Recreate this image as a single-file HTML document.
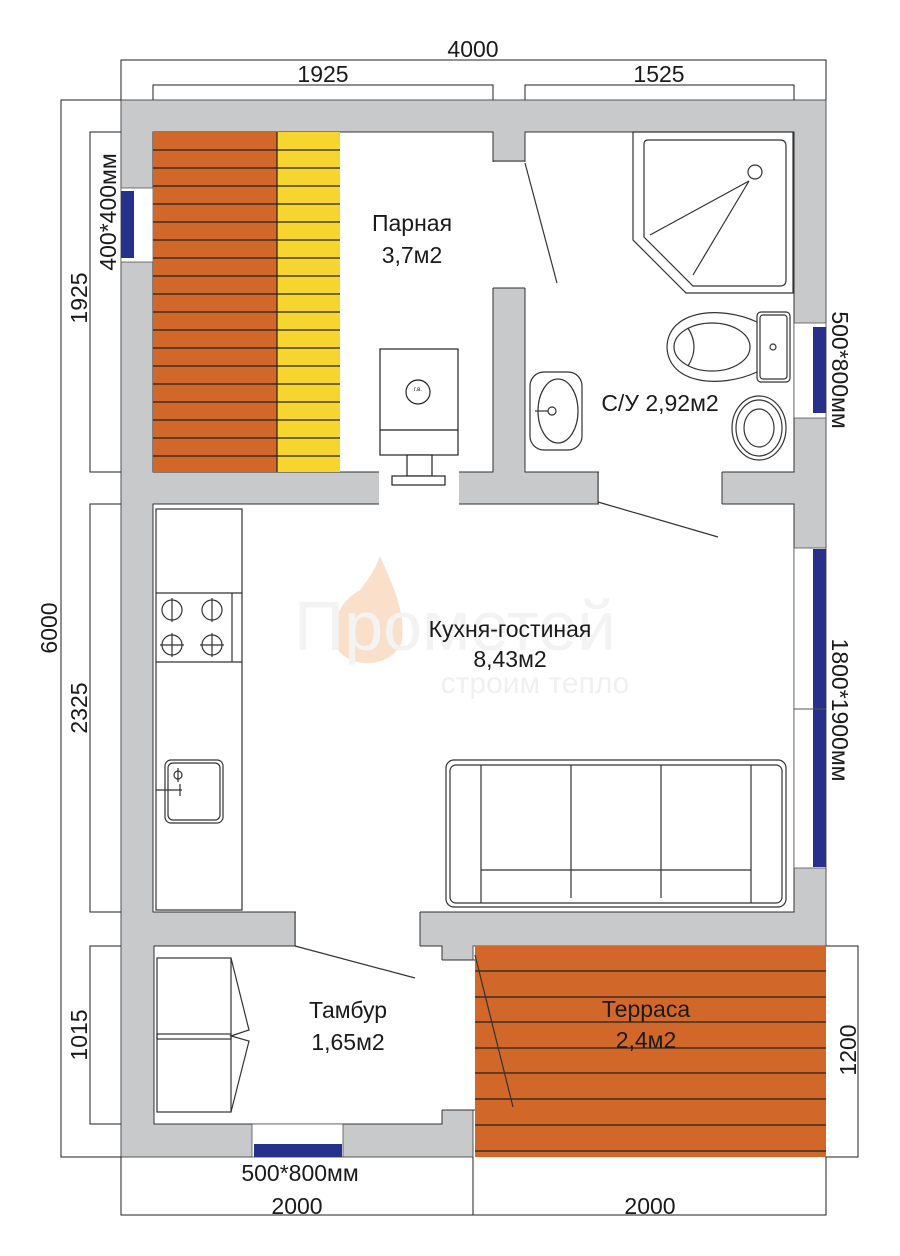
<!DOCTYPE html>
<html><head><meta charset="utf-8"><style>
html,body{margin:0;padding:0;background:#fff;}
svg{display:block;}
text{font-family:"Liberation Sans",sans-serif;fill:#1a1a1a;}
</style></head><body>
<svg width="900" height="1256" viewBox="0 0 900 1256" xmlns="http://www.w3.org/2000/svg">
<polygon points="121,100 826,100 826,946 473,946 473,1157 121,1157" fill="#c8c9cb" stroke="#555" stroke-width="1"/>
<g fill="#fff" stroke="#333" stroke-width="1">
<rect x="153" y="132" width="340" height="340"/>
<rect x="525" y="132" width="269" height="340"/>
<rect x="153" y="504" width="641" height="408"/>
<rect x="154" y="946" width="288" height="178"/>
</g>
<g fill="#fff">
<rect x="492" y="162" width="35" height="126"/>
<rect x="379" y="471" width="80" height="35"/>
<rect x="599" y="471" width="123" height="35"/>
<rect x="296" y="911" width="124" height="36"/>
<rect x="441" y="960" width="34" height="150"/>
</g>
<g stroke="#333" stroke-width="1" fill="none">
<line x1="493" y1="161" x2="525" y2="161"/><line x1="493" y1="288" x2="525" y2="288"/>
<line x1="598" y1="472" x2="598" y2="504"/><line x1="722" y1="472" x2="722" y2="504"/>
<line x1="295" y1="912" x2="295" y2="946"/><line x1="420" y1="912" x2="420" y2="946"/>
<line x1="442" y1="960" x2="475" y2="960"/><line x1="442" y1="1110" x2="475" y2="1110"/>
</g>
<rect x="121" y="188" width="32" height="74" fill="#fff" stroke="#555" stroke-width="0.8"/>
<rect x="121" y="191" width="13" height="67" fill="#27308a"/>
<rect x="794" y="323" width="32" height="95" fill="#fff" stroke="#555" stroke-width="0.8"/>
<rect x="813" y="327" width="13" height="86" fill="#27308a"/>
<rect x="794" y="548" width="32" height="320" fill="#fff" stroke="#555" stroke-width="0.8"/>
<rect x="813" y="549" width="13" height="318" fill="#27308a"/>
<line x1="794" y1="709" x2="826" y2="709" stroke="#555"/>
<rect x="252" y="1124" width="91" height="33" fill="#fff" stroke="#555" stroke-width="0.8"/>
<rect x="254" y="1144" width="88" height="13" fill="#27308a"/>
<rect x="475" y="946" width="351" height="211" fill="#d2672a"/>
<g stroke="#222" stroke-width="1.3">
<line x1="475" y1="971" x2="826" y2="971"/><line x1="475" y1="997" x2="826" y2="997"/>
<line x1="475" y1="1022" x2="826" y2="1022"/><line x1="475" y1="1048" x2="826" y2="1048"/>
<line x1="475" y1="1073" x2="826" y2="1073"/><line x1="475" y1="1099" x2="826" y2="1099"/>
<line x1="475" y1="1125" x2="826" y2="1125"/><line x1="475" y1="1151" x2="826" y2="1151"/>
</g>
<rect x="153" y="132" width="124" height="340" fill="#d2672a"/>
<rect x="277" y="132" width="63" height="340" fill="#f6d52e"/>
<g stroke="#222" stroke-width="1.2">
<line x1="153" y1="150" x2="340" y2="150"/><line x1="153" y1="168" x2="340" y2="168"/>
<line x1="153" y1="186" x2="340" y2="186"/><line x1="153" y1="204" x2="340" y2="204"/>
<line x1="153" y1="222" x2="340" y2="222"/><line x1="153" y1="240" x2="340" y2="240"/>
<line x1="153" y1="258" x2="340" y2="258"/><line x1="153" y1="276" x2="340" y2="276"/>
<line x1="153" y1="294" x2="340" y2="294"/><line x1="153" y1="312" x2="340" y2="312"/>
<line x1="153" y1="330" x2="340" y2="330"/><line x1="153" y1="348" x2="340" y2="348"/>
<line x1="153" y1="366" x2="340" y2="366"/><line x1="153" y1="384" x2="340" y2="384"/>
<line x1="153" y1="402" x2="340" y2="402"/><line x1="153" y1="420" x2="340" y2="420"/>
<line x1="153" y1="438" x2="340" y2="438"/><line x1="153" y1="456" x2="340" y2="456"/>
<line x1="277" y1="132" x2="277" y2="472"/>
</g>
<g fill="#fff" stroke="#222" stroke-width="1.2">
<rect x="380" y="349" width="78" height="106"/>
<line x1="380" y1="430" x2="458" y2="430"/>
<circle cx="418" cy="392" r="12"/>
<rect x="407" y="455" width="25" height="21"/>
<rect x="392" y="476" width="53" height="9"/>
</g>
<text x="418" y="391" font-size="6" text-anchor="middle">г.в.</text>
<g fill="none" stroke="#333" stroke-width="1.2">
<polygon points="633,132 793,132 793,293 686,293 633,240"/>
<path d="M648,140 H780 Q786,140 786,146 V280 Q786,286 780,286 H693 L644,237 V144 Q644,140 648,140 Z"/>
<circle cx="755" cy="172" r="7"/>
<line x1="749" y1="181" x2="650" y2="235"/><line x1="749" y1="181" x2="693" y2="275"/>
<rect x="757" y="312" width="33" height="70" rx="4"/>
<rect x="760" y="315" width="27" height="64" rx="3"/>
<circle cx="773" cy="347" r="3"/>
<path d="M757,322 C720,305 668,310 667,347 C668,384 720,389 757,372"/>
<ellipse cx="712" cy="347" rx="38" ry="24"/>
<path d="M688,328 Q700,347 688,366"/>
<ellipse cx="759" cy="428" rx="27" ry="32"/>
<ellipse cx="759" cy="428" rx="23" ry="28"/>
<ellipse cx="759" cy="428" rx="15" ry="19"/>
<rect x="530" y="372" width="52" height="78" rx="14"/>
<ellipse cx="558" cy="411" rx="20" ry="32"/>
<circle cx="552" cy="411" r="4"/>
<line x1="535" y1="411" x2="548" y2="411"/>
<line x1="525" y1="163" x2="557" y2="283"/>
<line x1="598" y1="502" x2="718" y2="537"/>
<line x1="295" y1="946" x2="415" y2="978"/>
<line x1="475" y1="955" x2="513" y2="1107"/>
</g>
<g fill="none" stroke="#333" stroke-width="1.2">
<rect x="156" y="509" width="86" height="401"/>
<line x1="156" y1="593" x2="242" y2="593"/><line x1="156" y1="662" x2="242" y2="662"/>
<line x1="232" y1="593" x2="232" y2="662"/>
<circle cx="172" cy="610" r="10"/><line x1="172" y1="598" x2="172" y2="622"/>
<circle cx="212" cy="610" r="10"/><line x1="212" y1="598" x2="212" y2="622"/>
<circle cx="172" cy="645" r="10"/><line x1="172" y1="633" x2="172" y2="657"/><line x1="160" y1="645" x2="184" y2="645"/>
<circle cx="212" cy="645" r="10"/><line x1="212" y1="633" x2="212" y2="657"/><line x1="200" y1="645" x2="224" y2="645"/>
<rect x="165" y="760" width="58" height="63" rx="6"/>
<rect x="168" y="763" width="52" height="57" rx="5"/>
<circle cx="178" cy="775" r="4"/><line x1="178" y1="768" x2="178" y2="782"/>
<line x1="156" y1="790" x2="182" y2="790"/><line x1="180" y1="784" x2="180" y2="796"/>
<rect x="157" y="958" width="74" height="81"/>
<rect x="157" y="1034" width="74" height="78"/>
<polyline points="231,958 249,1030 231,1036 249,1041 231,1112"/>
<rect x="446" y="760" width="340" height="147" rx="8"/>
<rect x="450" y="765" width="332" height="138" rx="6"/>
<line x1="481" y1="765" x2="481" y2="903"/>
<line x1="571" y1="765" x2="571" y2="898"/>
<line x1="661" y1="765" x2="661" y2="898"/>
<line x1="751" y1="765" x2="751" y2="903"/>
<line x1="481" y1="870" x2="751" y2="870"/>
</g>
<path d="M380,556 C395,590 405,612 402,640 C396,665 355,672 338,650 C325,630 340,600 360,590 C368,580 375,570 380,556 Z" fill="#f8d5b8" opacity="0.75"/>
<text x="455" y="650" font-size="70" text-anchor="middle" style="fill:#f3f3f3">Прометей</text>
<text x="535" y="693" font-size="30" text-anchor="middle" style="fill:#f0f0f0">строим тепло</text>
<g font-size="23" text-anchor="middle">
<text x="412" y="231">Парная</text><text x="412" y="263">3,7м2</text>
<text x="660" y="411">С/У 2,92м2</text>
<text x="510" y="637">Кухня-гостиная</text><text x="510" y="667">8,43м2</text>
<text x="348" y="1018">Тамбур</text><text x="348" y="1050">1,65м2</text>
<text x="646" y="1017">Терраса</text><text x="646" y="1048">2,4м2</text>
</g>
<g stroke="#222" stroke-width="1" fill="none">
<polyline points="121,100 121,60 826,60 826,100"/>
<polyline points="153,100 153,85 493,85 493,100"/>
<polyline points="525,100 525,85 794,85 794,100"/>
<polyline points="121,100 61,100 61,1157 121,1157"/>
<polyline points="121,132 90,132 90,472 121,472"/>
<polyline points="121,504 90,504 90,912 121,912"/>
<polyline points="121,946 90,946 90,1124 121,1124"/>
<polyline points="826,946 858,946 858,1157 826,1157"/>
<polyline points="121,1157 121,1215 826,1215 826,1157"/>
<line x1="473" y1="1157" x2="473" y2="1215"/>
</g>
<g font-size="23" text-anchor="middle">
<text x="473" y="57">4000</text>
<text x="323" y="82">1925</text>
<text x="659" y="82">1525</text>
<text x="297" y="1214">2000</text>
<text x="650" y="1214">2000</text>
<text x="300" y="1181">500*800мм</text>
<text transform="translate(57,628) rotate(-90)">6000</text>
<text transform="translate(87,298) rotate(-90)">1925</text>
<text transform="translate(87,708) rotate(-90)">2325</text>
<text transform="translate(87,1035) rotate(-90)">1015</text>
<text transform="translate(116,212) rotate(-90)">400*400мм</text>
<text transform="translate(832,370) rotate(90)">500*800мм</text>
<text transform="translate(832,710) rotate(90)">1800*1900мм</text>
<text transform="translate(856,1050) rotate(-90)">1200</text>
</g>
</svg>
</body></html>
